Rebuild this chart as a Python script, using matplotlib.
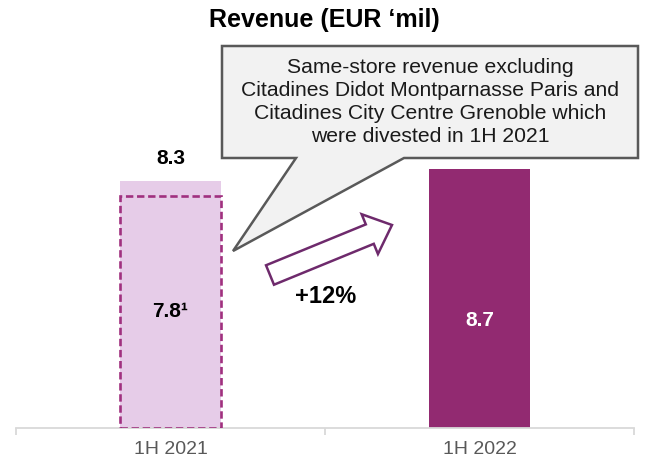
import matplotlib
matplotlib.use("Agg")
import matplotlib.pyplot as plt
from matplotlib.patches import Rectangle, Polygon, FancyArrow

plt.rcParams['font.family'] = ['Liberation Sans', 'DejaVu Sans']

# data
categories = ['1H 2021', '1H 2022']
revenue = [8.3, 8.7]
same_store = [7.8]
growth_label = '+12%'
note = ("Same-store revenue excluding\n"
        "Citadines Didot Montparnasse Paris and\n"
        "Citadines City Centre Grenoble which\n"
        "were divested in 1H 2021")

light = '#e6cce8'
dark = '#922a71'
dash_col = '#a0307f'
grey_axis = '#d9d9d9'

fig = plt.figure(figsize=(6.59, 4.65), dpi=100)
ax = fig.add_axes([16 / 659, 37 / 465, 618 / 659, 388 / 465])

x = list(range(len(categories)))
w = 0.325
ax.bar(x[0], revenue[0], width=w, color=light, zorder=2)
ax.bar(x[1], revenue[1], width=w, color=dark, zorder=2)

# same-store dashed box
ax.add_patch(Rectangle((x[0] - w / 2, 0), w, same_store[0], facecolor='none',
                       edgecolor=dash_col, lw=1.9, linestyle=(0, (2.8, 1.4)), zorder=3))

ax.set_xlim(-0.5, 1.5)
ax.set_ylim(0, 13.04)

ax.annotate(f'{revenue[0]:.1f}', (x[0], revenue[0]), xytext=(0, 16), textcoords='offset points',
            ha='center', va='center', fontsize=15, fontweight='bold')
ax.text(x[0], 3.9, f'{same_store[0]:.1f}¹', ha='center', va='center', fontsize=15, fontweight='bold')
ax.text(x[1], 3.6, f'{revenue[1]:.1f}', ha='center', va='center', fontsize=15,
        fontweight='bold', color='white')

for s in ['top', 'right', 'left']:
    ax.spines[s].set_visible(False)
ax.spines['bottom'].set_color(grey_axis)
ax.spines['bottom'].set_linewidth(1.3)
ax.set_yticks([])
ax.set_xticks(x)
ax.set_xticklabels(categories, fontsize=14, color='#595959')
ax.tick_params(axis='x', which='major', length=0, pad=9)
ax.set_xticks([-0.5, 0.5, 1.5], minor=True)
ax.tick_params(axis='x', which='minor', length=5, width=1.3, color=grey_axis)

# overlay in pixel units for title, callout and arrow
ov = fig.add_axes([0, 0, 1, 1], facecolor='none')
ov.set_xlim(0, 659)
ov.set_ylim(465, 0)
ov.axis('off')

ov.text(324, 20, 'Revenue (EUR \u2018mil)', ha='center', va='center', fontsize=18, fontweight='bold')

callout = Polygon([(222, 46), (638, 46), (638, 158), (404, 158), (233, 251), (296, 158), (222, 158)],
                  closed=True, facecolor='#f2f2f2', edgecolor='#595959', lw=1.8, zorder=4)
ov.add_patch(callout)
ov.text(430, 102, note, ha='center', va='center', fontsize=15.2, linespacing=1.27,
        color='#1a1a1a', zorder=5)

ov.add_patch(FancyArrow(270, 275, 122, -50, width=21, head_width=43, head_length=24,
                        length_includes_head=True, facecolor='white', edgecolor='#6e2a6c',
                        lw=1.8, zorder=4))
ov.text(326, 296, growth_label, ha='center', va='center', fontsize=17, fontweight='bold')

fig.savefig('out.png', dpi=100)
